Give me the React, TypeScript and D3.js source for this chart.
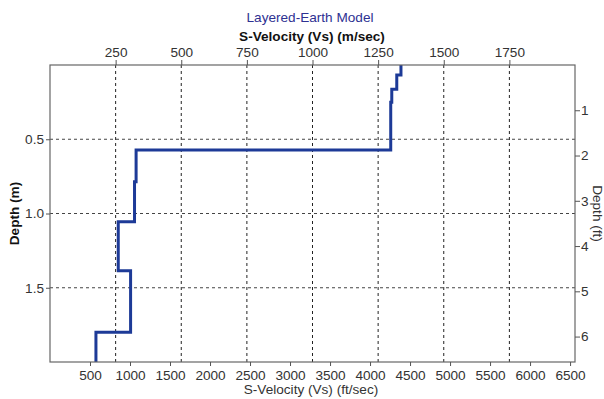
import React, { useEffect, useRef } from "react";
import { select, scaleLinear, axisTop, axisBottom, axisLeft, axisRight, line, format } from "d3";

// layer tops (m) and shear velocity of each layer (m/sec)
const layerTops = [0, 0.067, 0.163, 0.25, 0.572, 0.786, 1.055, 1.385, 1.8];
const layerVs = [1337, 1321, 1302, 1298, 328, 322, 260, 307, 175];
const maxDepth = 2.0;

const topTicks = [250, 500, 750, 1000, 1250, 1500, 1750];
const bottomTicks = [500, 1000, 1500, 2000, 2500, 3000, 3500, 4000, 4500, 5000, 5500, 6000, 6500];
const leftTicks = [0.5, 1.0, 1.5];
const rightTicks = [1, 2, 3, 4, 5, 6];

const FT = 3.28084;
const W = 604;
const H = 399;
const margin = { top: 65, right: 29, bottom: 37, left: 50 };
const font = "'Liberation Sans', Arial, sans-serif";
const fs = "13.6px";

function App() {
  const svgRef = useRef(null);

  useEffect(() => {
    const svg = select(svgRef.current);
    svg.selectAll("*").remove();

    const x = scaleLinear().domain([0, 2000]).range([margin.left, W - margin.right]);
    const xFt = scaleLinear().domain([0, 2000 * FT]).range(x.range());
    const y = scaleLinear().domain([0, maxDepth]).range([margin.top, H - margin.bottom]);
    const yFt = scaleLinear().domain([0, maxDepth * FT]).range(y.range());

    // dashed grid
    const grid = svg.append("g");
    grid.selectAll(".vg")
      .data(topTicks)
      .join("line")
      .attr("x1", (d) => x(d)).attr("x2", (d) => x(d))
      .attr("y1", y(0)).attr("y2", y(maxDepth))
      .attr("stroke", "#222").attr("stroke-dasharray", "3,3");
    grid.selectAll(".hg")
      .data(leftTicks)
      .join("line")
      .attr("x1", x(0)).attr("x2", x(2000))
      .attr("y1", (d) => y(d)).attr("y2", (d) => y(d))
      .attr("stroke", "#444").attr("stroke-dasharray", "3,3");

    // velocity profile: vertical within a layer, horizontal at each boundary
    const path = [];
    layerTops.forEach((d, i) => {
      if (i > 0) path.push([layerVs[i - 1], d]);
      path.push([layerVs[i], d]);
    });
    path.push([layerVs[layerVs.length - 1], maxDepth]);
    svg.append("path")
      .attr("d", line().x((d) => x(d[0])).y((d) => y(d[1]))(path))
      .attr("fill", "none")
      .attr("stroke", "#1d3a97")
      .attr("stroke-width", 3);

    // frame
    svg.append("rect")
      .attr("x", x(0)).attr("y", y(0))
      .attr("width", x(2000) - x(0)).attr("height", y(maxDepth) - y(0))
      .attr("fill", "none").attr("stroke", "#666").attr("stroke-width", 1.2);

    const styleAxis = (g) => {
      g.select(".domain").remove();
      g.selectAll("line").attr("stroke", "#555");
      g.selectAll("text").attr("fill", "#333").style("font-family", font).style("font-size", fs);
    };

    svg.append("g")
      .attr("transform", `translate(0,${y(0)})`)
      .call(axisTop(x).tickValues(topTicks).tickFormat(format("d")).tickSize(5).tickPadding(3))
      .call(styleAxis);
    svg.append("g")
      .attr("transform", `translate(0,${y(maxDepth)})`)
      .call(axisBottom(xFt).tickValues(bottomTicks).tickFormat(format("d")).tickSize(4).tickPadding(4))
      .call(styleAxis);
    svg.append("g")
      .attr("transform", `translate(${x(0)},0)`)
      .call(axisLeft(y).tickValues(leftTicks).tickFormat((d) => d.toFixed(1)).tickSize(4).tickPadding(2))
      .call(styleAxis);
    svg.append("g")
      .attr("transform", `translate(${x(2000)},0)`)
      .call(axisRight(yFt).tickValues(rightTicks).tickFormat(format("d")).tickSize(5).tickPadding(1))
      .call(styleAxis);

    // titles
    svg.append("text")
      .attr("x", 310).attr("y", 22)
      .attr("text-anchor", "middle")
      .attr("fill", "#2e3192")
      .style("font-family", font).style("font-size", fs)
      .text("Layered-Earth Model");
    svg.append("text")
      .attr("x", 312).attr("y", 41)
      .attr("text-anchor", "middle")
      .attr("fill", "#111").attr("font-weight", "bold")
      .style("font-family", font).style("font-size", fs)
      .text("S-Velocity (Vs) (m/sec)");
    svg.append("text")
      .attr("x", 311).attr("y", 394)
      .attr("text-anchor", "middle")
      .attr("fill", "#333")
      .style("font-family", font).style("font-size", fs)
      .text("S-Velocity (Vs) (ft/sec)");
    svg.append("text")
      .attr("transform", `translate(19,${y(1)}) rotate(-90)`)
      .attr("text-anchor", "middle")
      .attr("fill", "#111").attr("font-weight", "bold")
      .style("font-family", font).style("font-size", fs)
      .text("Depth (m)");
    svg.append("text")
      .attr("transform", `translate(593,${y(1)}) rotate(90)`)
      .attr("text-anchor", "middle")
      .attr("fill", "#333")
      .style("font-family", font).style("font-size", fs)
      .text("Depth (ft)");
  }, []);

  return (
    <svg
      ref={svgRef}
      width={W}
      height={H}
      style={{ position: "absolute", left: 0, top: 0, background: "#fff" }}
    />
  );
}

export default App;
